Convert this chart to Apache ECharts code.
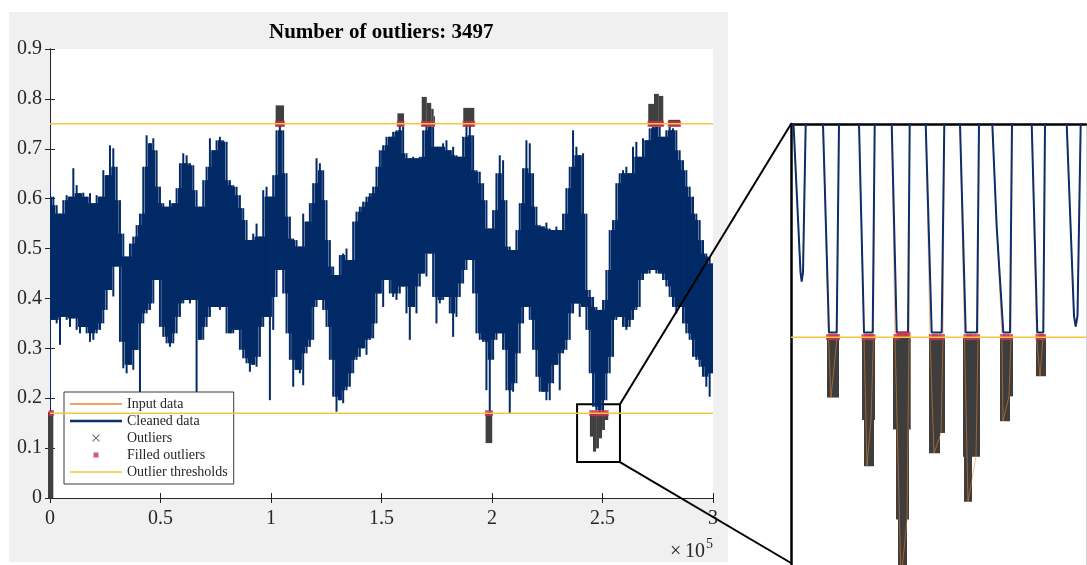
<!DOCTYPE html>
<html><head><meta charset="utf-8">
<script src="https://cdn.jsdelivr.net/npm/echarts@6/dist/echarts.min.js"></script>
<style>html,body{margin:0;padding:0;background:#fff}#c{width:1087px;height:565px}</style>
</head><body><div id="c"></div>
<script>
// ---------- main plot data (sample index, value) ----------
const sampleX = [
0,1508,3015,4523,6030,7538,9045,10553,12060,13568,
15075,16583,18090,19598,21105,22613,24120,25628,27135,28643,
30150,31658,33165,34673,36180,37688,39195,40703,42210,43718,
45225,46733,48240,49748,51255,52763,54270,55778,57285,58793,
60300,61808,63315,64823,66330,67838,69345,70853,72360,73868,
75375,76883,78390,79898,81405,82913,84420,85928,87435,88943,
90450,91958,93465,94973,96480,97988,99495,101003,102510,104018,
105525,107033,108540,110048,111555,113063,114570,116078,117585,119093,
120600,122108,123615,125123,126630,128138,129645,131153,132660,134168,
135675,137183,138690,140198,141705,143213,144720,146228,147735,149243,
150750,152258,153765,155273,156780,158288,159795,161303,162810,164318,
165825,167333,168840,170348,171855,173363,174870,176378,177885,179393,
180900,182408,183915,185423,186930,188438,189945,191453,192960,194468,
195975,197483,198990,200498,202005,203513,205020,206528,208035,209543,
211050,212558,214065,215573,217080,218588,220095,221603,223110,224618,
226125,227633,229140,230648,232155,233663,235170,236678,238185,239693,
241200,242708,244215,245723,247230,248738,250245,251753,253260,254768,
256275,257783,259290,260798,262305,263813,265320,266828,268335,269843,
271350,272858,274365,275873,277380,278888,280395,281903,283410,284918,
286425,287933,289440,290948,292455,293963,295470,296978,298485,299993];
// upper envelope of cleaned data
const upperEnv = [
0.627,0.604,0.587,0.570,0.597,0.607,0.604,0.661,0.627,0.611,
0.612,0.604,0.611,0.591,0.607,0.604,0.657,0.647,0.707,0.701,
0.664,0.597,0.530,0.484,0.510,0.524,0.547,0.570,0.664,0.727,
0.711,0.721,0.697,0.624,0.591,0.584,0.597,0.591,0.621,0.671,
0.691,0.687,0.671,0.667,0.617,0.584,0.637,0.664,0.721,0.697,
0.717,0.724,0.717,0.714,0.637,0.627,0.624,0.607,0.581,0.557,
0.517,0.530,0.550,0.524,0.617,0.624,0.604,0.647,0.737,0.747,
0.737,0.651,0.564,0.520,0.517,0.504,0.570,0.554,0.591,0.631,
0.681,0.671,0.657,0.597,0.517,0.464,0.447,0.487,0.490,0.500,
0.477,0.554,0.574,0.584,0.594,0.604,0.611,0.624,0.664,0.697,
0.707,0.724,0.724,0.734,0.737,0.751,0.744,0.691,0.681,0.684,
0.681,0.684,0.737,0.751,0.747,0.744,0.704,0.704,0.711,0.717,
0.697,0.704,0.687,0.684,0.724,0.751,0.747,0.727,0.657,0.654,
0.631,0.597,0.540,0.577,0.651,0.687,0.677,0.597,0.504,0.497,
0.537,0.591,0.661,0.717,0.711,0.651,0.584,0.547,0.544,0.552,
0.540,0.537,0.544,0.537,0.570,0.621,0.664,0.737,0.704,0.687,
0.691,0.570,0.417,0.403,0.383,0.377,0.397,0.457,0.537,0.557,
0.631,0.651,0.657,0.664,0.651,0.704,0.714,0.684,0.721,0.717,
0.741,0.744,0.744,0.744,0.724,0.737,0.744,0.741,0.737,0.697,
0.677,0.657,0.624,0.604,0.570,0.557,0.517,0.490,0.484,0.470];
// lower envelope of cleaned data
const lowerEnv = [
0.170,0.357,0.350,0.307,0.363,0.357,0.343,0.360,0.337,0.330,
0.343,0.330,0.313,0.317,0.330,0.337,0.350,0.377,0.417,0.404,
0.464,0.313,0.260,0.250,0.267,0.257,0.297,0.210,0.350,0.370,
0.377,0.390,0.437,0.343,0.323,0.310,0.303,0.310,0.330,0.363,
0.390,0.397,0.390,0.397,0.210,0.317,0.317,0.343,0.363,0.383,
0.383,0.377,0.383,0.330,0.330,0.330,0.337,0.297,0.280,0.270,
0.253,0.267,0.263,0.283,0.343,0.363,0.196,0.337,0.403,0.457,
0.410,0.330,0.277,0.223,0.257,0.250,0.226,0.290,0.303,0.317,
0.383,0.397,0.377,0.343,0.277,0.203,0.173,0.196,0.190,0.216,
0.223,0.250,0.277,0.283,0.300,0.287,0.317,0.320,0.350,0.410,
0.383,0.437,0.410,0.403,0.397,0.410,0.424,0.370,0.317,0.383,
0.370,0.424,0.450,0.444,0.490,0.403,0.350,0.390,0.397,0.403,
0.370,0.323,0.363,0.403,0.430,0.457,0.477,0.410,0.330,0.317,
0.313,0.216,0.170,0.277,0.317,0.330,0.297,0.216,0.170,0.213,
0.230,0.290,0.350,0.383,0.357,0.297,0.243,0.213,0.213,0.196,
0.196,0.230,0.267,0.216,0.290,0.297,0.317,0.370,0.390,0.363,
0.383,0.337,0.250,0.183,0.176,0.170,0.173,0.196,0.250,0.283,
0.357,0.363,0.343,0.337,0.343,0.357,0.377,0.383,0.437,0.450,
0.450,0.457,0.450,0.450,0.437,0.424,0.403,0.383,0.370,0.383,
0.350,0.330,0.317,0.283,0.277,0.263,0.243,0.223,0.203,0.250];

const upperThreshold = 0.75;
const lowerThreshold = 0.17;

// outlier clusters in main plot: sample range and value range
const outX0 = [102100,157200,168200,170500,172500,173600,187000,270700,273300,275500,279800,-900,197100,244300,245700,247100,248400,249800,251100];
const outX1 = [105900,160200,170500,172500,173600,174200,192000,273300,275500,277500,285100,1500,200100,245700,247100,248400,249800,251100,252600];
const outLo = [0.745,0.745,0.745,0.745,0.745,0.745,0.745,0.745,0.745,0.745,0.745,0,0.110,0.123,0.093,0.0995,0.1196,0.1363,0.1563];
const outHi = [0.787,0.771,0.804,0.792,0.780,0.765,0.782,0.790,0.810,0.806,0.758,0.172,0.172,0.172,0.172,0.172,0.172,0.172,0.172];

// filled outliers (placed on the thresholds)
const filledTopX = [102700,104200,105400,157800,159500,168800,170300,171800,173300,187600,189100,190600,191500,271300,272800,274300,275800,276900,280400,281900,283400,284600];
const filledBotX = [300,900,197700,199500,244900,246300,247700,249100,250500,251900];

// zoom box [x0, y0, x1, y1]
const zoomBox = [238500, 0.072, 257900, 0.188];

// ---------- inset (zoomed) data ----------
const insetCleanX = [0,2.5,9.5,10.7,12,14.7,23.5,32,38,45.7,48,58,68,73,81.7,83.7,92,100.7,105.7,117,118.7,127,134.7,140.7,150.7,153.3,161,169,174.7,186,188,195,201.3,205.7,212.3,219,221,231,240.7,246.3,252.3,254,265,275.7,283,284.7,286.5,289.7,295];
const insetCleanY = [0.1985,0.188,0.1755,0.1747,0.1755,0.188,0.1985,0.188,0.1704,0.1704,0.188,0.1985,0.188,0.1704,0.1704,0.188,0.1985,0.188,0.1704,0.1704,0.188,0.1985,0.188,0.1704,0.1704,0.188,0.1985,0.188,0.1704,0.1704,0.188,0.1985,0.188,0.1793,0.1704,0.1704,0.188,0.1985,0.188,0.1704,0.1704,0.188,0.1985,0.188,0.1718,0.1709,0.1718,0.188,0.1985];
const insetInputX = [0,2.5,9.5,10.7,12,14.7,23.5,32,37.5,40,46,48,58,68,73,76,80,82.5,83.7,92,100.7,104,110,116,118,118.7,127,134.7,139,143,150,152,153.3,161,169,173.5,177,185,187,188,195,201.3,205.7,211,212,218,220,221,231,240.7,245.5,249,252,254,265,275.7,283,284.7,286.5,289.7,295];
const insetInputY = [0.1985,0.188,0.1755,0.1747,0.1755,0.188,0.1985,0.188,0.170,0.1649,0.170,0.188,0.1985,0.188,0.170,0.1591,0.1630,0.170,0.188,0.1985,0.188,0.170,0.1495,0.1546,0.170,0.188,0.1985,0.188,0.170,0.1602,0.1619,0.170,0.188,0.1985,0.188,0.170,0.1561,0.1599,0.170,0.188,0.1985,0.188,0.1793,0.170,0.1629,0.1650,0.170,0.188,0.1985,0.188,0.170,0.1667,0.170,0.188,0.1985,0.188,0.1718,0.1709,0.1718,0.188,0.1985];
const insetOutX0 = [36,71,73,102,105,107,138,138,172,173,209,209,245];
const insetOutX1 = [48,84,83,119.7,118,116,154,149,189,181,222,219,255];
const insetOutLo = [0.1649,0.1630,0.1591,0.1622,0.1546,0.1480,0.1619,0.1602,0.1599,0.1561,0.1650,0.1629,0.1667];
const insetFilledX = [38,41,44,46,73.5,76.5,79.5,81.5,105.5,108.5,111.5,114.5,116.5,141,144,147,151,175.5,178.5,181.5,186,212,215,219,247.5,250.5,252];
const insetFilledY = [0.170,0.170,0.170,0.170,0.170,0.170,0.170,0.170,0.170,0.1702,0.1702,0.1702,0.1702,0.170,0.170,0.170,0.170,0.170,0.170,0.170,0.170,0.170,0.170,0.170,0.170,0.170,0.170];

// ---------- styles ----------
const FONT = 'Liberation Serif';
const TXT = '#262626';
const NAVY = '#022a66';
const GRAY = '#404040';
const RED = '#c6324f';
const YEL = '#f6c540';
const ORANGE = '#f0862a';

const chart = echarts.init(document.getElementById('c'), null, {renderer: 'canvas'});

function rectRender(color) {
  return function (params, api) {
    const p1 = api.coord([api.value(0), api.value(3)]);
    const p2 = api.coord([api.value(1), api.value(2)]);
    return {type: 'rect', shape: {x: p1[0], y: p1[1], width: p2[0] - p1[0], height: p2[1] - p1[1]}, style: {fill: color}};
  };
}
// each sample: a solid core shared with its neighbours plus a thin spike to its own extremes
function bandRender(params, api) {
  const i = params.dataIndex, n = sampleX.length;
  const x = sampleX[i];
  const ip = Math.max(0, i - 1), inx = Math.min(n - 1, i + 1);
  const xl = i > 0 ? (sampleX[i - 1] + x) / 2 : x;
  const xr = i < n - 1 ? (sampleX[i + 1] + x) / 2 : x;
  const lo = api.value(1), hi = api.value(2);
  const coreLo = Math.max(lowerEnv[ip], lo, lowerEnv[inx]);
  const coreHi = Math.min(upperEnv[ip], hi, upperEnv[inx]);
  const children = [];
  if (coreHi > coreLo) {
    const a = api.coord([xl, coreHi]), b = api.coord([xr, coreLo]);
    children.push({type: 'rect', shape: {x: a[0] - 0.4, y: a[1], width: b[0] - a[0] + 0.8, height: b[1] - a[1]}, style: {fill: NAVY}});
  }
  const t = api.coord([x, hi]), bt = api.coord([x, lo]);
  children.push({type: 'rect', shape: {x: t[0] - 1, y: t[1], width: 2, height: bt[1] - t[1]}, style: {fill: NAVY}});
  return {type: 'group', children: children};
}

const lineIcon1 = 'path://M0,0h52v1.6h-52z';
const lineIcon2 = 'path://M0,0h52v2.6h-52z';
const xIcon = 'path://M0,0h0.01v0.01h-0.01z M52,12h-0.01v-0.01h0.01z M22.9,2.2L29.8,9.1L29.1,9.8L22.2,2.9z M29.1,2.2L29.8,2.9L22.9,9.8L22.2,9.1z';
const sqIcon = 'path://M0,0h0.01v0.01h-0.01z M52,12h-0.01v-0.01h0.01z M23.5,3.5h5v5h-5z';

const mainAxisCommon = {
  axisLine: {show: true, lineStyle: {color: TXT, width: 1}},
  axisTick: {show: true, inside: true, length: 5, lineStyle: {color: TXT}},
  splitLine: {show: false}
};

const option = {
  animation: false,
  backgroundColor: 'transparent',
  title: {
    text: 'Number of outliers: 3497', left: 269, top: 22, padding: 0,
    textStyle: {fontFamily: FONT, fontSize: 21, fontWeight: 'bold', color: '#000'}
  },
  legend: {
    orient: 'vertical', left: 64, top: 392, padding: [5, 6, 5, 6],
    itemWidth: 52, itemHeight: 12, itemGap: 3, selectedMode: false,
    backgroundColor: '#fff', borderColor: '#3a3a3a', borderWidth: 1, borderRadius: 0,
    symbolKeepAspect: true,
    textStyle: {fontFamily: FONT, fontSize: 14, color: TXT},
    data: [
      {name: 'Input data', icon: lineIcon1, itemStyle: {color: ORANGE}},
      {name: 'Cleaned data', icon: lineIcon2, itemStyle: {color: '#0d2d6b'}},
      {name: 'Outliers', icon: xIcon, itemStyle: {color: '#6a6a6a'}},
      {name: 'Filled outliers', icon: sqIcon, itemStyle: {color: RED}},
      {name: 'Outlier thresholds', icon: lineIcon1, itemStyle: {color: YEL}}
    ]
  },
  grid: [
    {left: 50, top: 49, width: 663, height: 449, show: true, backgroundColor: '#fff', borderWidth: 0, containLabel: false, outerBoundsMode: 'none'},
    {left: 791, top: 124, width: 295, height: 450, show: false, containLabel: false, outerBoundsMode: 'none'}
  ],
  xAxis: [
    Object.assign({gridIndex: 0, type: 'value', position: 'bottom', min: 0, max: 300000, interval: 50000,
      axisLabel: {fontFamily: FONT, fontSize: 20, color: TXT, margin: 11, formatter: v => String(v / 100000)}}, mainAxisCommon),
    Object.assign({gridIndex: 0, type: 'value', position: 'top', min: 0, max: 300000, interval: 50000,
      axisLabel: {show: false}}, mainAxisCommon),
    {gridIndex: 1, type: 'value', position: 'top', min: 0, max: 295,
      axisLine: {show: true, lineStyle: {color: '#000', width: 2.5}}, axisTick: {show: false}, axisLabel: {show: false}, splitLine: {show: false}}
  ],
  yAxis: [
    Object.assign({gridIndex: 0, type: 'value', position: 'left', min: 0, max: 0.9, interval: 0.1,
      axisLabel: {fontFamily: FONT, fontSize: 20, color: TXT, margin: 8, formatter: v => String(Number(v.toFixed(1)))}}, mainAxisCommon),
    Object.assign({gridIndex: 0, type: 'value', position: 'right', min: 0, max: 0.9, interval: 0.1,
      axisLabel: {show: false}}, mainAxisCommon),
    {gridIndex: 1, type: 'value', position: 'left', min: 0.15, max: 0.188,
      axisLine: {show: true, lineStyle: {color: '#000', width: 2.5}}, axisTick: {show: false}, axisLabel: {show: false}, splitLine: {show: false}},
    {gridIndex: 1, type: 'value', position: 'right', min: 0.15, max: 0.188,
      axisLine: {show: true, lineStyle: {color: '#d4d4d4', width: 1}}, axisTick: {show: false}, axisLabel: {show: false}, splitLine: {show: false}}
  ],
  series: [
    // inset series
    {name: 'Input data', type: 'line', xAxisIndex: 2, yAxisIndex: 2, symbol: 'none', z: 3,
      lineStyle: {color: ORANGE, width: 1, opacity: 0.55}, itemStyle: {color: ORANGE},
      data: insetInputX.map((x, i) => [x, insetInputY[i]])},
    {name: 'Cleaned data', type: 'line', xAxisIndex: 2, yAxisIndex: 2, symbol: 'none', z: 4,
      lineStyle: {color: '#0d2d6b', width: 2}, itemStyle: {color: '#0d2d6b'},
      data: insetCleanX.map((x, i) => [x, insetCleanY[i]])},
    {name: 'Outliers', type: 'custom', xAxisIndex: 2, yAxisIndex: 2, z: 2, clip: true,
      itemStyle: {color: GRAY}, renderItem: rectRender('#3d3d3d'),
      encode: {x: [0, 1], y: [2, 3]},
      data: insetOutX0.map((x, i) => [x, insetOutX1[i], insetOutLo[i], lowerThreshold])},
    {name: 'Filled outliers', type: 'scatter', xAxisIndex: 2, yAxisIndex: 2, z: 5,
      symbol: 'rect', symbolSize: [6, 6], itemStyle: {color: RED},
      data: insetFilledX.map((x, i) => [x, insetFilledY[i]])},
    {name: 'Outlier thresholds', type: 'line', xAxisIndex: 2, yAxisIndex: 2, symbol: 'none', z: 6,
      lineStyle: {color: YEL, width: 1.5}, itemStyle: {color: YEL},
      data: [[0, lowerThreshold], [295, lowerThreshold]]},
    // main plot series
    {name: 'Cleaned data', type: 'custom', xAxisIndex: 0, yAxisIndex: 0, z: 2, clip: true,
      itemStyle: {color: NAVY}, renderItem: bandRender,
      encode: {x: 0, y: [1, 2]},
      data: sampleX.map((x, i) => [x, lowerEnv[i], upperEnv[i]])},
    {name: 'Outliers', type: 'custom', xAxisIndex: 0, yAxisIndex: 0, z: 3, clip: false,
      itemStyle: {color: GRAY}, renderItem: rectRender(GRAY),
      encode: {x: [0, 1], y: [2, 3]},
      data: outX0.map((x, i) => [x, outX1[i], outLo[i], outHi[i]])},
    {name: 'Filled outliers', type: 'scatter', xAxisIndex: 0, yAxisIndex: 0, z: 4,
      symbol: 'rect', symbolSize: [4, 6], itemStyle: {color: RED},
      data: filledTopX.map(x => [x, upperThreshold]).concat(filledBotX.map(x => [x, lowerThreshold]))},
    {name: 'Outlier thresholds', type: 'line', xAxisIndex: 0, yAxisIndex: 0, symbol: 'none', z: 6,
      lineStyle: {color: YEL, width: 1.5}, itemStyle: {color: YEL},
      data: [[0, upperThreshold], [300000, upperThreshold]]},
    {name: 'Outlier thresholds', type: 'line', xAxisIndex: 0, yAxisIndex: 0, symbol: 'none', z: 6,
      lineStyle: {color: YEL, width: 1.5}, itemStyle: {color: YEL},
      data: [[0, lowerThreshold], [300000, lowerThreshold]],
      markArea: {silent: true, itemStyle: {color: 'rgba(0,0,0,0)', borderColor: '#000', borderWidth: 2},
        data: [[{coord: [zoomBox[0], zoomBox[3]]}, {coord: [zoomBox[2], zoomBox[1]]}]]}}
  ]
};
chart.setOption(option);

// graphic annotations: figure background, axis exponent, connector lines
const tr = chart.convertToPixel({xAxisIndex: 0, yAxisIndex: 0}, [zoomBox[2], zoomBox[3]]);
const br = chart.convertToPixel({xAxisIndex: 0, yAxisIndex: 0}, [zoomBox[2], zoomBox[1]]);
const insetTL = chart.convertToPixel({xAxisIndex: 2, yAxisIndex: 2}, [0, 0.188]);
const H = chart.getHeight();
chart.setOption({
  graphic: [
    {type: 'rect', z: -100, silent: true, shape: {x: 9, y: 12, width: 719, height: 550}, style: {fill: '#f0f0f0'}},
    {type: 'text', z: 10, x: 670, y: 552, style: {text: '×', font: '20px "Liberation Serif"', fill: TXT, verticalAlign: 'middle'}},
    {type: 'text', z: 10, x: 685, y: 552, style: {text: '10', font: '20px "Liberation Serif"', fill: TXT, verticalAlign: 'middle'}},
    {type: 'text', z: 10, x: 706, y: 544, style: {text: '5', font: '14px "Liberation Serif"', fill: TXT, verticalAlign: 'middle'}},
    {type: 'line', z: 10, shape: {x1: tr[0], y1: tr[1], x2: insetTL[0], y2: insetTL[1]}, style: {stroke: '#000', lineWidth: 2}},
    {type: 'line', z: 10, shape: {x1: br[0], y1: br[1], x2: insetTL[0], y2: H - 2}, style: {stroke: '#000', lineWidth: 2}}
  ]
});
</script>
</body></html>
